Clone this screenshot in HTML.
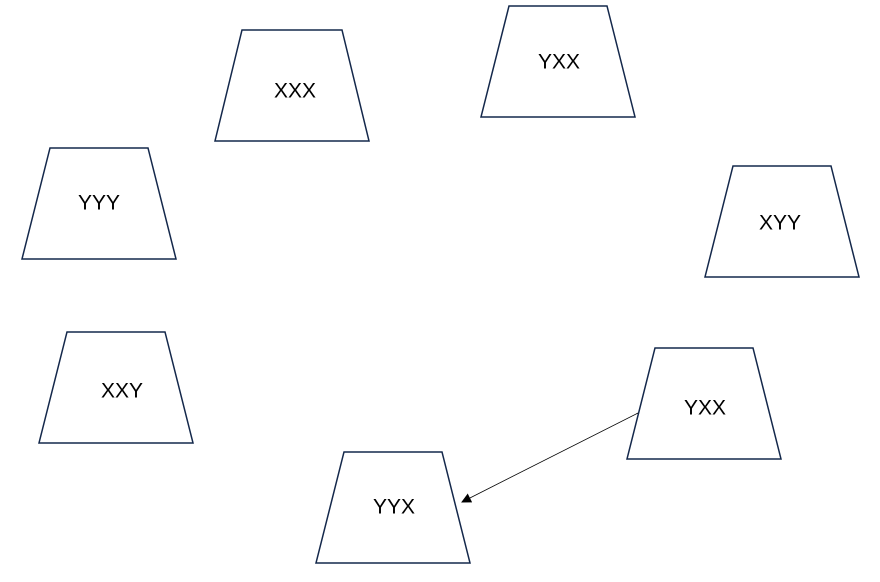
<!DOCTYPE html>
<html><head><meta charset="utf-8"><style>html,body{margin:0;padding:0;background:#fff}</style></head>
<body>
<svg width="880" height="582" xmlns="http://www.w3.org/2000/svg" style="display:block">
<defs><marker id="a" markerWidth="10" markerHeight="10" refX="9" refY="5" orient="auto" markerUnits="userSpaceOnUse"><path d="M0,0 L10,5 L0,10 z" fill="#000"/></marker></defs>
<g fill="#fff" stroke="#14284b" stroke-width="1.5">
<polygon points="242,30 342,30 369,141 215,141"/>
<polygon points="509,6 607,6 635,117 481,117"/>
<polygon points="50,148 148,148 176,259 22,259"/>
<polygon points="733,166 831,166 859,277 705,277"/>
<polygon points="67,332 165,332 193,443 39,443"/>
<polygon points="655,348 753,348 781,459 627,459"/>
<polygon points="344,452 442,452 470,563 316,563"/>
</g>
<line x1="638" y1="413" x2="462" y2="502" stroke="#000" stroke-width="0.8" marker-end="url(#a)"/>
<g font-family="Liberation Sans, sans-serif" font-size="21" fill="#000" text-anchor="middle" dominant-baseline="central">
<text x="295" y="91">XXX</text>
<text x="559" y="62">YXX</text>
<text x="99" y="203">YYY</text>
<text x="780" y="223">XYY</text>
<text x="122" y="391">XXY</text>
<text x="705" y="408">YXX</text>
<text x="394" y="507">YYX</text>
</g>
</svg>
</body></html>
